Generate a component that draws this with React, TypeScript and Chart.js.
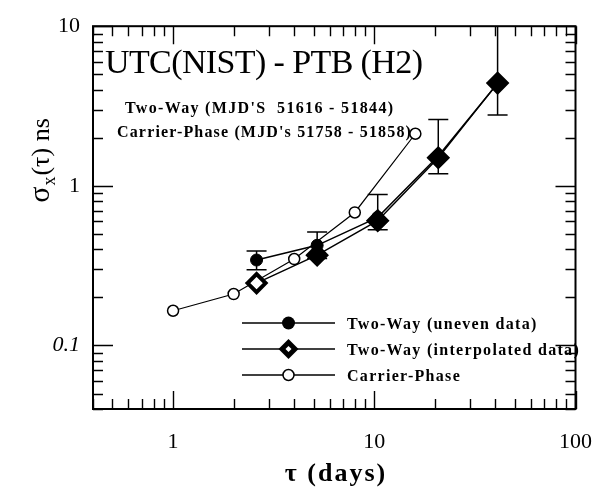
import React, { useEffect, useRef } from 'react';
import { Chart, registerables } from 'chart.js';
Chart.register(...registerables);

// ---- data ----
const twoWayTau = [2.6, 5.2, 10.4, 20.8, 41];
const unevenSigma = [0.343, 0.424, 0.635, 1.54, 4.38];
const unevenErrLow = [0.298, 0.35, 0.53, 1.19, 2.78];
const unevenErrHigh = [0.39, 0.513, 0.884, 2.6, 10];
const interpSigma = [0.246, 0.368, 0.605, 1.5, 4.4];
const carrierTau = [1, 2, 4, 8, 16];
const carrierSigma = [0.165, 0.21, 0.348, 0.681, 2.12];
const xLabelValues = [1, 10, 100];
const yLabelValues = [0.1, 1, 10];
const seriesNames = ['Two-Way (uneven data)', 'Two-Way (interpolated data)', 'Carrier-Phase'];
const titleText = 'UTC(NIST) - PTB (H2)';
const noteLines = ["Two-Way (MJD'S  51616 - 51844)", "Carrier-Phase (MJD's 51758 - 51858)"];

const FONT = '"Liberation Serif", "Times New Roman", serif';

const isOneOf = (v: number, arr: number[]) => arr.some((a) => Math.abs(v - a) / a < 1e-6);

function minorTicks(min: number, max: number) {
  const out: number[] = [];
  for (let e = -3; e <= 3; e++) {
    for (let d = 1; d <= 9; d++) {
      const v = parseFloat((d * Math.pow(10, e)).toPrecision(6));
      if (v >= min - 1e-9 && v <= max + 1e-9) out.push(v);
    }
  }
  return out;
}

function fitText(ctx: CanvasRenderingContext2D, text: string, x: number, y: number, width: number, font: string) {
  ctx.font = font;
  (ctx as any).letterSpacing = '0px';
  const w0 = ctx.measureText(text).width;
  const sp = (width - w0) / Math.max(1, text.length - 1);
  (ctx as any).letterSpacing = sp.toFixed(2) + 'px';
  ctx.fillText(text, x, y);
  (ctx as any).letterSpacing = '0px';
}

function drawMarker(ctx: CanvasRenderingContext2D, kind: string, cx: number, cy: number) {
  ctx.save();
  ctx.strokeStyle = '#000';
  if (kind === 'dot') {
    ctx.beginPath();
    ctx.arc(cx, cy, 6.5, 0, Math.PI * 2);
    ctx.fillStyle = '#000';
    ctx.fill();
  } else if (kind === 'diamond') {
    const r = 10;
    ctx.beginPath();
    ctx.moveTo(cx, cy - r);
    ctx.lineTo(cx + r, cy);
    ctx.lineTo(cx, cy + r);
    ctx.lineTo(cx - r, cy);
    ctx.closePath();
    ctx.fillStyle = '#000';
    ctx.fill();
    const s = 3;
    ctx.beginPath();
    ctx.moveTo(cx, cy - s);
    ctx.lineTo(cx + s, cy);
    ctx.lineTo(cx, cy + s);
    ctx.lineTo(cx - s, cy);
    ctx.closePath();
    ctx.fillStyle = '#fff';
    ctx.fill();
  } else {
    ctx.beginPath();
    ctx.arc(cx, cy, 5.5, 0, Math.PI * 2);
    ctx.fillStyle = '#fff';
    ctx.fill();
    ctx.lineWidth = 1.5;
    ctx.stroke();
  }
  ctx.restore();
}

const decorPlugin = {
  id: 'decor',
  beforeDatasetsDraw(chart: any) {
    const { ctx, chartArea, scales } = chart;
    const { x, y } = scales;
    ctx.save();
    ctx.beginPath();
    ctx.rect(chartArea.left, chartArea.top, chartArea.right - chartArea.left, chartArea.bottom - chartArea.top);
    ctx.clip();
    ctx.strokeStyle = '#000';
    ctx.lineWidth = 1.5;
    twoWayTau.forEach((t, i) => {
      const px = x.getPixelForValue(t);
      const lo = y.getPixelForValue(unevenErrLow[i]);
      const hi = y.getPixelForValue(unevenErrHigh[i]);
      ctx.beginPath();
      ctx.moveTo(px, lo);
      ctx.lineTo(px, hi);
      ctx.moveTo(px - 10, lo);
      ctx.lineTo(px + 10, lo);
      ctx.moveTo(px - 10, hi);
      ctx.lineTo(px + 10, hi);
      ctx.stroke();
    });
    ctx.restore();
  },
  afterDraw(chart: any) {
    const { ctx, chartArea, scales } = chart;
    const { left, right, top, bottom } = chartArea;
    const { x, y } = scales;
    ctx.save();
    ctx.strokeStyle = '#000';
    ctx.fillStyle = '#000';
    // frame
    ctx.lineWidth = 2;
    ctx.strokeRect(left, top, right - left, bottom - top);
    // ticks inward on all four sides
    ctx.lineWidth = 1.4;
    ctx.beginPath();
    minorTicks(x.min, x.max).forEach((v) => {
      const px = Math.round(x.getPixelForValue(v)) + 0.5;
      const len = isOneOf(v, xLabelValues) ? 18 : 10;
      ctx.moveTo(px, bottom);
      ctx.lineTo(px, bottom - len);
      ctx.moveTo(px, top);
      ctx.lineTo(px, top + len);
    });
    minorTicks(y.min, y.max).forEach((v) => {
      const py = Math.round(y.getPixelForValue(v)) + 0.5;
      const len = isOneOf(v, yLabelValues) ? 20 : 10;
      ctx.moveTo(left, py);
      ctx.lineTo(left + len, py);
      ctx.moveTo(right, py);
      ctx.lineTo(right - len, py);
    });
    ctx.stroke();

    // in-plot texts
    ctx.textBaseline = 'alphabetic';
    ctx.textAlign = 'left';
    fitText(ctx, titleText, 105, 73, 318, `34px ${FONT}`);
    fitText(ctx, noteLines[0], 125, 113, 268, `bold 16px ${FONT}`);
    fitText(ctx, noteLines[1], 117, 137, 294, `bold 16px ${FONT}`);

    // legend
    const rows = [323, 349, 375];
    const kinds = ['dot', 'diamond', 'open'];
    rows.forEach((ry, i) => {
      ctx.lineWidth = 1.5;
      ctx.beginPath();
      ctx.moveTo(242, ry);
      ctx.lineTo(335, ry);
      ctx.stroke();
      drawMarker(ctx, kinds[i], 288.5, ry);
      ctx.fillStyle = '#000';
      ctx.font = `bold 16px ${FONT}`;
      (ctx as any).letterSpacing = '1.3px';
      ctx.fillText(seriesNames[i], 347, ry + 6);
      (ctx as any).letterSpacing = '0px';
    });

    // x title
    ctx.font = `bold 26px ${FONT}`;
    (ctx as any).letterSpacing = '2px';
    ctx.textAlign = 'center';
    ctx.fillText('τ (days)', 336, 481);
    (ctx as any).letterSpacing = '0px';

    // y title: σx(τ) ns rotated
    ctx.save();
    ctx.translate(40, 160);
    ctx.rotate(-Math.PI / 2);
    ctx.textAlign = 'left';
    const parts: [string, string, number][] = [
      ['σ', `30px ${FONT}`, 0],
      ['x', `18px ${FONT}`, 6],
      ['(τ) ns', `26px ${FONT}`, 0],
    ];
    let total = 0;
    parts.forEach(([t, f]) => {
      ctx.font = f;
      total += ctx.measureText(t).width + 1;
    });
    let cx = -total / 2;
    parts.forEach(([t, f, dy]) => {
      ctx.font = f;
      ctx.fillText(t, cx, 9 + dy);
      cx += ctx.measureText(t).width + 1;
    });
    ctx.restore();
    ctx.restore();
  },
};

export default function App() {
  const ref = useRef<HTMLCanvasElement>(null);
  useEffect(() => {
    const chart = new Chart(ref.current as HTMLCanvasElement, {
      type: 'line',
      data: {
        datasets: [
          {
            label: seriesNames[1],
            data: twoWayTau.map((t, i) => ({ x: t, y: interpSigma[i] })),
            borderColor: '#000',
            borderWidth: 1.5,
            pointStyle: 'rectRot',
            pointRadius: 9,
            pointBackgroundColor: ['#fff', '#000', '#000', '#000', '#000'],
            pointBorderColor: '#000',
            pointBorderWidth: 4,
            order: 0,
          },
          {
            label: seriesNames[0],
            data: twoWayTau.map((t, i) => ({ x: t, y: unevenSigma[i] })),
            borderColor: '#000',
            borderWidth: 1.5,
            pointStyle: 'circle',
            pointRadius: 6,
            pointBackgroundColor: '#000',
            pointBorderColor: '#000',
            pointBorderWidth: 1,
            order: 1,
          },
          {
            label: seriesNames[2],
            data: carrierTau.map((t, i) => ({ x: t, y: carrierSigma[i] })),
            borderColor: '#000',
            borderWidth: 1.2,
            pointStyle: 'circle',
            pointRadius: 5.5,
            pointBackgroundColor: '#fff',
            pointBorderColor: '#000',
            pointBorderWidth: 1.5,
            order: 2,
          },
        ] as any,
      },
      options: {
        animation: false,
        responsive: false,
        maintainAspectRatio: false,
        layout: { padding: { top: 21, right: 21, left: 0, bottom: 0 } },
        scales: {
          x: {
            type: 'logarithmic',
            min: 0.4,
            max: 100,
            afterFit: (s: any) => {
              s.height = 78;
            },
            grid: { display: false, drawTicks: false },
            border: { display: false },
            ticks: {
              autoSkip: false,
              maxRotation: 0,
              padding: 20,
              color: '#000',
              font: { family: FONT, size: 22 },
              callback: (v: any) => (isOneOf(Number(v), xLabelValues) ? String(Number(v)) : ''),
            },
          },
          y: {
            type: 'logarithmic',
            min: 0.04,
            max: 10,
            afterFit: (s: any) => {
              s.width = 93;
            },
            grid: { display: false, drawTicks: false },
            border: { display: false },
            ticks: {
              autoSkip: false,
              padding: 13,
              color: '#000',
              font: (c: any) => ({
                family: FONT,
                size: 22,
                style: c.tick && Math.abs(c.tick.value - 0.1) < 1e-9 ? 'italic' : 'normal',
              }),
              callback: (v: any) => (isOneOf(Number(v), yLabelValues) ? String(Number(v)) : ''),
            },
          },
        },
        plugins: { legend: { display: false }, tooltip: { enabled: false } },
      } as any,
      plugins: [decorPlugin],
    });
    return () => chart.destroy();
  }, []);
  return (
    <div style={{ position: 'fixed', left: 0, top: 0, width: 612, height: 487, background: '#fff' }}>
      <canvas ref={ref} width={612} height={487} style={{ width: 612, height: 487, display: 'block' }} />
    </div>
  );
}
